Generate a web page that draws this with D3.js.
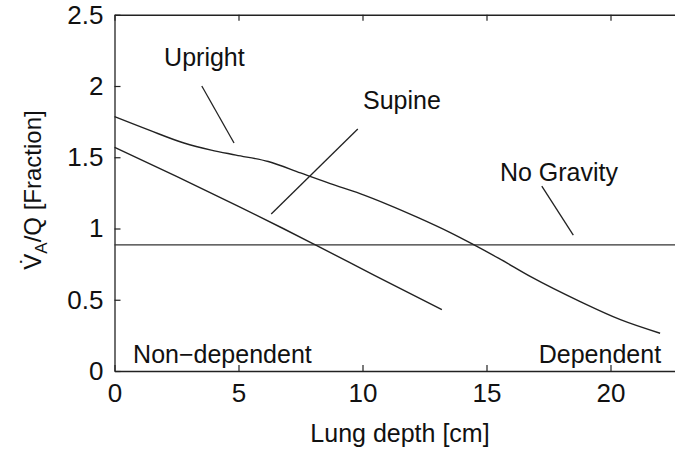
<!DOCTYPE html>
<html>
<head>
<meta charset="utf-8">
<script src="https://cdn.jsdelivr.net/npm/d3@7"></script>
<style>
  html, body { margin: 0; padding: 0; background: #fff; }
  svg { display: block; }
  text { font-family: "Liberation Sans", Arial, Helvetica, sans-serif; fill: #111; }
</style>
</head>
<body>
<svg id="chart" width="675" height="450"></svg>
<script>
// V_A/Q ratio versus lung depth for upright and supine posture, plus the zero-gravity level
const depthUpright = [0, 1.4, 2.8, 3.9, 4.9, 6.2, 7.5, 8.7, 9.9, 11.0, 12.2, 13.5, 14.5, 15.5, 16.8, 18.8, 20.4, 22.0];
const vqUpright    = [1.785, 1.69, 1.60, 1.55, 1.515, 1.47, 1.39, 1.315, 1.245, 1.17, 1.08, 0.975, 0.885, 0.79, 0.66, 0.485, 0.36, 0.265];
const depthSupine  = [0, 2.5, 5.0, 6.8, 8.1, 10.5, 13.2];
const vqSupine     = [1.57, 1.365, 1.155, 1.0, 0.885, 0.67, 0.43];
const vqNoGravity  = 0.885;

const xTicks = [0, 5, 10, 15, 20];
const yTicks = [0, 0.5, 1, 1.5, 2, 2.5];
const yTickLabels = ["0", "0.5", "1", "1.5", "2", "2.5"];

// curve labels with their leader lines, in data units
const curveLabels = [
  { text: "Upright",    x: 2.0,   y: 2.14,  line: [[3.52, 2.0], [4.82, 1.60]] },
  { text: "Supine",     x: 10.02, y: 1.839, line: [[9.81, 1.698], [6.32, 1.102]] },
  { text: "No Gravity", x: 15.54, y: 1.333, line: [[17.23, 1.298], [18.5, 0.954]] }
];
const regionLabels = [
  { text: "Non\u2212dependent", x: 0.75,  y: 0.056, anchor: "start" },
  { text: "Dependent",          x: 22.04, y: 0.056, anchor: "end" }
];

const svg = d3.select("#chart");
const x = d3.scaleLinear().domain([0, 23]).range([114.5, 114.5 + 23 * 24.8]);
const y = d3.scaleLinear().domain([0, 2.5]).range([371, 14.75]);

const ink = "#222";

// axes with inward ticks, mirrored on top
const xAxis = svg.append("g").attr("transform", `translate(0,${y(0)})`)
  .call(d3.axisBottom(x).tickValues(xTicks).tickSizeInner(-6).tickSizeOuter(0).tickPadding(13).tickFormat(d3.format("d")));
const xTop = svg.append("g").attr("transform", `translate(0,${y(2.5)})`)
  .call(d3.axisTop(x).tickValues(xTicks).tickSizeInner(-6).tickSizeOuter(0).tickFormat(""));
const yAxis = svg.append("g").attr("transform", `translate(${x(0)},0)`)
  .call(d3.axisLeft(y).tickValues(yTicks).tickSizeInner(-6).tickSizeOuter(0).tickPadding(11)
    .tickFormat((d, i) => yTickLabels[i]));

[xAxis, xTop, yAxis].forEach(g => {
  g.select(".domain").attr("stroke", ink).attr("stroke-width", 1.3);
  g.selectAll(".tick line").attr("stroke", ink).attr("stroke-width", 1.2);
  g.selectAll(".tick text").attr("font-size", 26).attr("fill", "#111")
    .attr("font-family", '"Liberation Sans", Arial, sans-serif');
});

// zero-gravity reference level
svg.append("line")
  .attr("x1", x(0)).attr("x2", x(23))
  .attr("y1", y(vqNoGravity)).attr("y2", y(vqNoGravity))
  .attr("stroke", "#333").attr("stroke-width", 1.3);

const line = d3.line().x(d => x(d[0])).y(d => y(d[1])).curve(d3.curveMonotoneX);

svg.append("path")
  .datum(d3.zip(depthUpright, vqUpright))
  .attr("d", line).attr("fill", "none").attr("stroke", ink).attr("stroke-width", 1.4);

svg.append("path")
  .datum(d3.zip(depthSupine, vqSupine))
  .attr("d", line).attr("fill", "none").attr("stroke", ink).attr("stroke-width", 1.4);

// curve labels and leader lines
curveLabels.forEach(c => {
  svg.append("line")
    .attr("x1", x(c.line[0][0])).attr("y1", y(c.line[0][1]))
    .attr("x2", x(c.line[1][0])).attr("y2", y(c.line[1][1]))
    .attr("stroke", ink).attr("stroke-width", 1.3);
  svg.append("text").attr("x", x(c.x)).attr("y", y(c.y))
    .attr("font-size", 25).text(c.text);
});

regionLabels.forEach(r => {
  svg.append("text").attr("x", x(r.x)).attr("y", y(r.y))
    .attr("text-anchor", r.anchor).attr("font-size", 25).text(r.text);
});

// axis titles
svg.append("text")
  .attr("x", 400).attr("y", 442)
  .attr("text-anchor", "middle").attr("font-size", 25)
  .text("Lung depth [cm]");

const yTitle = svg.append("text")
  .attr("transform", "translate(41,190) rotate(-90)")
  .attr("text-anchor", "middle").attr("font-size", 24);
yTitle.append("tspan").text("V\u0307");
yTitle.append("tspan").attr("font-size", 17).attr("dy", 6).text("A");
yTitle.append("tspan").attr("dy", -6).text("/Q [Fraction]");
</script>
</body>
</html>
